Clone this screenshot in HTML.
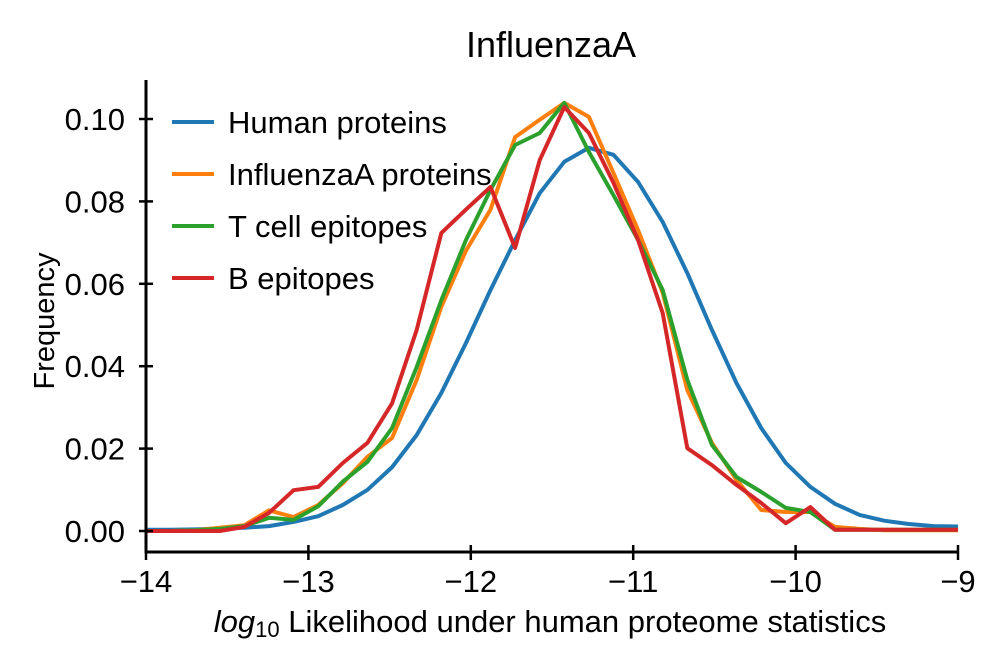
<!DOCTYPE html>
<html><head><meta charset="utf-8"><style>
html,body{margin:0;padding:0;background:#fff;}
svg{display:block;font-family:"Liberation Sans",sans-serif;}
</style></head><body>
<svg id="chart" width="1005" height="670" viewBox="0 0 1005 670">
<text x="551" y="57" font-size="36" text-anchor="middle">InfluenzaA</text>
<g id="plot"></g>
<g id="axes"></g>
<text x="550" y="632" font-size="31" text-anchor="middle"><tspan font-style="italic">log</tspan><tspan font-size="22" dy="5">10</tspan><tspan dy="-5"> Likelihood under human proteome statistics</tspan></text>
<text transform="translate(54,321) rotate(-90)" font-size="29" text-anchor="middle">Frequency</text>
<g id="legend"></g>
</svg>
<script>
const seriesNames = ["Human proteins","InfluenzaA proteins","T cell epitopes","B epitopes"];
const seriesColors = ["#1f77b4","#ff7f0e","#2ca02c","#d62728"];
const xStart = -14, xEnd = -9, nBins = 33;
const human = [0.0003,0.0003,0.0004,0.0006,0.0008,0.0012,0.0022,0.0036,0.0063,0.0100,0.0155,0.0233,0.0335,0.0456,0.0585,0.0706,0.0820,0.0896,0.0930,0.0913,0.0847,0.0750,0.0626,0.0488,0.0359,0.0250,0.0165,0.0107,0.0066,0.0039,0.0025,0.0017,0.0012,0.0011];
const influenza = [0,0,0.0002,0.0008,0.0014,0.0050,0.0034,0.0063,0.0116,0.0180,0.0226,0.0367,0.0544,0.0680,0.0780,0.0956,0.0998,0.1039,0.1005,0.0869,0.0730,0.0578,0.0342,0.0214,0.0124,0.0051,0.0046,0.0046,0.0010,0.0005,0.0002,0.0002,0.0002,0.0002];
const tcell = [0,0,0.0002,0.0005,0.0012,0.0032,0.0027,0.0060,0.0120,0.0168,0.0250,0.0398,0.0560,0.0706,0.0828,0.0937,0.0966,0.1039,0.0920,0.0815,0.0706,0.0585,0.0367,0.0209,0.0131,0.0095,0.0056,0.0046,0.0003,0.0003,0.0003,0.0003,0.0003,0.0003];
const bcell = [0,0,0,0,0.0010,0.0044,0.0099,0.0107,0.0165,0.0214,0.0310,0.0488,0.0723,0.0780,0.0835,0.0687,0.0900,0.1029,0.0966,0.0845,0.0706,0.0529,0.0201,0.0160,0.0112,0.0068,0.0019,0.0058,0.0003,0.0003,0.0003,0.0003,0.0003,0.0003];
const xTicks = [-14,-13,-12,-11,-10,-9];
const xTickLabels = ["\u221214","\u221213","\u221212","\u221211","\u221210","\u22129"];
const yTicks = [0,0.02,0.04,0.06,0.08,0.10];
const yTickLabels = ["0.00","0.02","0.04","0.06","0.08","0.10"];

const NS="http://www.w3.org/2000/svg";
const X0=146,X1=958,Y0=531,Y1=119;
function xs(v){return X0+(v-(-14))/5*(X1-X0);}
function ys(v){return Y0-(v/0.10)*(Y0-Y1);}
function mk(tag,attrs,parent){const e=document.createElementNS(NS,tag);for(const k in attrs)e.setAttribute(k,attrs[k]);parent.appendChild(e);return e;}
const plot=document.getElementById('plot'),axes=document.getElementById('axes'),legend=document.getElementById('legend');
const allSeries=[human,influenza,tcell,bcell];
allSeries.forEach((s,si)=>{
  const pts=s.map((v,i)=>xs(xStart+i*(xEnd-xStart)/nBins).toFixed(1)+','+ys(v).toFixed(1)).join(' ');
  const pl=mk('polyline',{points:pts,fill:'none',stroke:seriesColors[si],'stroke-width':4,'stroke-linejoin':'round'},plot);
  
  
});
const ysp=mk('line',{x1:146,y1:80,x2:146,y2:553,stroke:'#000','stroke-width':3},axes);


const xsp=mk('line',{x1:144.5,y1:552,x2:958,y2:552,stroke:'#000','stroke-width':3},axes);


xTicks.forEach((t,i)=>{
  const x=xs(t);
  const tk=mk('line',{x1:x,y1:545,x2:x,y2:560,stroke:'#000','stroke-width':2.5},axes);
  
  
  const tl=mk('text',{x:x,y:592,'font-size':31,'text-anchor':'middle'},axes);
  tl.textContent=xTickLabels[i];
  
  
});
yTicks.forEach((t,i)=>{
  const y=ys(t);
  const tk=mk('line',{x1:139,y1:y,x2:153,y2:y,stroke:'#000','stroke-width':2.5},axes);
  
  
  const tl=mk('text',{x:125,y:y+11,'font-size':31,'text-anchor':'end'},axes);
  tl.textContent=yTickLabels[i];
  
  
});
seriesNames.forEach((n,i)=>{
  const y=122+i*52;
  const g=mk('g',{},legend);
  
  
  mk('line',{x1:172,y1:y,x2:214,y2:y,stroke:seriesColors[i],'stroke-width':4},g);
  const t=mk('text',{x:228,y:y+11,'font-size':31},g);
  t.textContent=n;
});
</script>
</body></html>
